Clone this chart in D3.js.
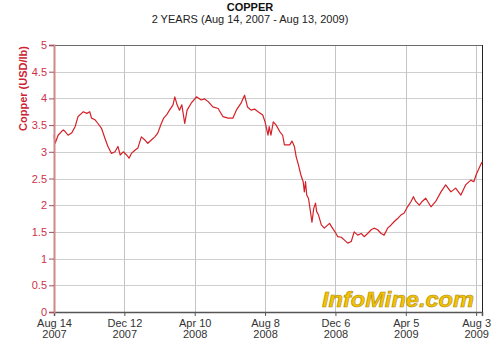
<!DOCTYPE html>
<html><head><meta charset="utf-8">
<script src="https://cdn.jsdelivr.net/npm/d3@7"></script>
<style>body{margin:0;background:#fff}svg{display:block}text{font-family:Arial,"Liberation Sans",sans-serif}</style>
</head><body><svg id="c" width="500" height="357"></svg>
<script>
const startDate = "2007-08-14";
const endDate = "2009-08-13";
const dayOffsets = [0,2,7,12,16,19,24,30,36,41,47,50,56,61,64,70,75,81,87,92,98,104,109,113,118,124,128,132,138,143,149,155,160,166,172,177,183,187,192,197,203,206,210,214,218,223,227,234,243,251,257,263,271,280,288,297,305,311,319,325,330,336,342,348,356,360,365,367,370,374,379,385,390,393,402,406,410,413,417,421,425,427,429,431,434,437,440,443,446,448,451,456,461,470,475,481,484,490,495,501,507,512,518,524,529,535,541,546,552,558,563,569,575,580,586,592,597,603,609,613,617,623,628,634,643,651,660,668,677,685,694,702,711,716,720,725,730];
const prices = [3.31,3.16,3.31,3.37,3.41,3.38,3.31,3.35,3.47,3.66,3.72,3.75,3.72,3.75,3.63,3.60,3.53,3.44,3.25,3.10,2.97,3.00,3.10,2.94,3.00,2.94,2.88,2.97,3.03,3.07,3.28,3.22,3.16,3.22,3.28,3.35,3.53,3.63,3.69,3.78,3.88,4.03,3.88,3.78,3.88,3.53,3.78,3.91,4.03,3.97,3.99,3.94,3.84,3.81,3.66,3.63,3.63,3.78,3.91,4.06,3.84,3.78,3.80,3.75,3.69,3.56,3.31,3.47,3.31,3.56,3.50,3.38,3.31,3.13,3.13,3.20,3.10,2.91,2.75,2.57,2.44,2.25,2.44,2.19,2.13,1.91,1.68,1.94,2.04,1.88,1.82,1.63,1.57,1.66,1.57,1.47,1.41,1.40,1.35,1.29,1.32,1.50,1.44,1.47,1.41,1.47,1.54,1.57,1.54,1.47,1.44,1.57,1.63,1.69,1.75,1.82,1.85,1.97,2.07,2.16,2.07,2.00,2.07,2.13,1.97,2.07,2.25,2.38,2.25,2.32,2.19,2.38,2.47,2.44,2.57,2.69,2.81];
const xTickLabels = [["Aug 14","2007"],["Dec 12","2007"],["Apr 10","2008"],["Aug 8","2008"],["Dec 6","2008"],["Apr 5","2009"],["Aug 3","2009"]];
const xTickDays = [0,120,240,360,480,600,720];
const yTicks = [0,0.5,1,1.5,2,2.5,3,3.5,4,4.5,5];
const yTickLabels = ["0","0.5","1","1.5","2","2.5","3","3.5","4","4.5","5"];

const parse = d3.timeParse("%Y-%m-%d");
const t0 = parse(startDate), t1 = parse(endDate);
const data = dayOffsets.map((d,i)=>({date:d3.timeDay.offset(t0,d), v:prices[i]}));

const svg = d3.select("#c");
const m = {l:54, r:482, t:45, b:312};
const x = d3.scaleTime().domain([t0,t1]).range([m.l,m.r]);
const y = d3.scaleLinear().domain([0,5]).range([m.b,m.t]);

// horizontal grid
svg.append("g").selectAll("line").data(yTicks.slice(1,-1)).join("line")
  .attr("x1",m.l).attr("x2",m.r).attr("y1",d=>Math.round(y(d))+0.5).attr("y2",d=>Math.round(y(d))+0.5)
  .attr("stroke","#cfcfcf").attr("stroke-width",1);
// vertical grid
const xTickDates = xTickDays.map(d=>d3.timeDay.offset(t0,d));
svg.append("g").selectAll("line").data(xTickDates.slice(1)).join("line")
  .attr("x1",d=>Math.round(x(d))+0.5).attr("x2",d=>Math.round(x(d))+0.5).attr("y1",m.t).attr("y2",m.b)
  .attr("stroke","#c4c4c4").attr("stroke-width",1);

// borders
svg.append("line").attr("x1",m.l).attr("x2",m.r).attr("y1",m.t+0.5).attr("y2",m.t+0.5).attr("stroke","#6b6b6b");
svg.append("line").attr("x1",m.r+0.5).attr("x2",m.r+0.5).attr("y1",m.t).attr("y2",m.b).attr("stroke","#222");

// watermark
svg.append("text").attr("x",322).attr("y",307).attr("textLength",152).attr("lengthAdjust","spacingAndGlyphs")
  .attr("font-size",22).attr("font-weight","bold").attr("font-style","italic")
  .attr("fill","#f5c400").attr("stroke","#b08a10").attr("stroke-width",0.6)
  .text("InfoMine.com");

// line
svg.append("path").datum(data)
  .attr("d",d3.line().x(d=>x(d.date)).y(d=>y(d.v)))
  .attr("fill","none").attr("stroke","#d42026").attr("stroke-width",1.2).attr("stroke-linejoin","round");

// x axis
const xAxis = d3.axisBottom(x).tickValues(xTickDates).tickSize(4).tickFormat("");
const gx = svg.append("g").attr("transform",`translate(0,${m.b})`).call(xAxis);
gx.select(".domain").attr("stroke","#555").attr("stroke-width",1.5);
gx.selectAll(".tick line").attr("stroke","#555");
gx.selectAll(".tick").each(function(d,i){
  const t = d3.select(this).append("text").attr("fill","#333").attr("font-size",11).attr("text-anchor","middle");
  t.append("tspan").attr("x",0).attr("y",15).text(xTickLabels[i][0]);
  t.append("tspan").attr("x",0).attr("y",26).text(xTickLabels[i][1]);
});

// y axis
const yAxis = d3.axisLeft(y).tickValues(yTicks).tickSize(5).tickFormat((d,i)=>yTickLabels[i]).tickPadding(2);
const gy = svg.append("g").attr("transform",`translate(${m.l},0)`).call(yAxis);
gy.select(".domain").attr("stroke","#d08888").attr("stroke-width",2);
gy.selectAll(".tick line").attr("stroke","#a05060");
gy.selectAll(".tick text").attr("fill","#d0304a").attr("font-size",11).attr("font-family","Arial,'Liberation Sans',sans-serif");

// titles
svg.append("text").attr("x",250).attr("y",11).attr("text-anchor","middle").attr("font-size",11).attr("font-weight","bold").attr("fill","#111").text("COPPER");
svg.append("text").attr("x",250).attr("y",23).attr("text-anchor","middle").attr("font-size",11).attr("fill","#222").text("2 YEARS (Aug 14, 2007 - Aug 13, 2009)");
svg.append("text").attr("transform","translate(27,46) rotate(-90)").attr("text-anchor","end")
  .attr("font-size",11).attr("font-weight","bold").attr("fill","#cc2233").text("Copper (USD/lb)");
</script></body></html>
